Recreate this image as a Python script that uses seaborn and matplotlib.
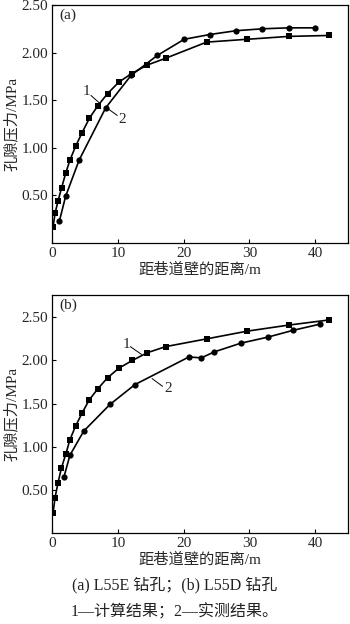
import matplotlib
matplotlib.use("Agg")
import matplotlib.pyplot as plt
import seaborn as sns
import pandas as pd

sns.set_theme(style="ticks")
plt.rcParams['font.family'] = ['Liberation Serif', 'Noto Sans CJK SC']
plt.rcParams['axes.unicode_minus'] = False

# (a) L55E borehole
a_calc_x = [0.14, 0.44, 0.89, 1.44, 2.05, 2.70, 3.6, 4.56, 5.67, 6.93, 8.44, 10.15,
            12.1, 14.5, 17.25, 23.5, 29.7, 36.0, 42.2]
a_calc_y = [0.17, 0.31, 0.44, 0.58, 0.73, 0.87, 1.02, 1.16, 1.31, 1.44, 1.57, 1.69,
            1.78, 1.87, 1.94, 2.11, 2.14, 2.17, 2.18]
a_meas_x = [1.1, 2.05, 4.1, 8.15, 12.0, 16.0, 20.1, 24.0, 28.0, 32.0, 36.0, 40.0]
a_meas_y = [0.23, 0.49, 0.87, 1.42, 1.76, 1.97, 2.14, 2.19, 2.23, 2.25, 2.26, 2.26]

# (b) L55D borehole
b_calc_x = [0.14, 0.44, 0.89, 1.4, 2.1, 2.7, 3.57, 4.56, 5.62, 6.93, 8.44, 10.15,
            12.2, 14.5, 17.25, 23.5, 29.7, 36.0, 42.2]
b_calc_y = [0.23, 0.41, 0.58, 0.75, 0.92, 1.08, 1.24, 1.39, 1.54, 1.67, 1.80, 1.91,
            2.00, 2.09, 2.16, 2.25, 2.34, 2.41, 2.47]
b_meas_x = [1.8, 2.7, 4.8, 8.8, 12.6, 20.8, 22.7, 24.7, 28.7, 32.8, 36.7, 40.7]
b_meas_y = [0.65, 0.90, 1.18, 1.49, 1.72, 2.04, 2.03, 2.10, 2.20, 2.27, 2.35, 2.42]

x_ticks = [0, 10, 20, 30, 40]
y_ticks = [0.5, 1.0, 1.5, 2.0, 2.5]
y_tick_labels = ["0.50", "1.00", "1.50", "2.00", "2.50"]

x_label = "距巷道壁的距离/m"
y_label = "孔隙压力/MPa"
caption1 = "(a) L55E 钻孔；(b) L55D 钻孔"
caption2 = "1—计算结果；2—实测结果。"

fig = plt.figure(figsize=(3.5, 6.24), dpi=100)
ax_a = fig.add_axes([0.149, 0.6106, 0.845, 0.3814])
ax_b = fig.add_axes([0.149, 0.146, 0.845, 0.3814])

FS = 11


def draw_panel(ax, cx, cy, mx, my, ylim, tag, lab1, lab2):
    calc = pd.DataFrame({"x": cx, "y": cy})
    meas = pd.DataFrame({"x": mx, "y": my})
    sns.lineplot(data=calc, x="x", y="y", ax=ax, color="black", lw=1.2,
                 marker="s", markersize=4.3, markeredgewidth=0, sort=False)
    sns.lineplot(data=meas, x="x", y="y", ax=ax, color="black", lw=1.2,
                 marker="o", markersize=4.5, markeredgewidth=0, sort=False)
    ax.set_xlim(0, 45)
    ax.set_ylim(*ylim)
    ax.set_xticks(x_ticks)
    ax.set_xticklabels([str(t) for t in x_ticks], fontsize=FS)
    ax.set_yticks(y_ticks)
    ax.set_yticklabels(y_tick_labels, fontsize=FS)
    ax.tick_params(direction="in", length=3, width=0.8, color="black", pad=3)
    for s in ax.spines.values():
        s.set_color("black")
        s.set_linewidth(0.9)
    ax.set_xlabel(x_label, fontsize=FS, labelpad=2)
    ax.set_ylabel(y_label, fontsize=FS, labelpad=2)
    ax.text(0.025, 0.955, tag, transform=ax.transAxes, fontsize=FS,
            ha="left", va="center")
    for txt, (tx, ty), (x0, y0), (x1, y1) in (lab1, lab2):
        ax.text(tx, ty, txt, fontsize=FS, ha="center", va="center")
        ax.plot([x0, x1], [y0, y1], color="black", lw=0.7)


draw_panel(ax_a, a_calc_x, a_calc_y, a_meas_x, a_meas_y, (0, 2.5), "(a)",
           ("1", (5.2, 1.59), (5.9, 1.55), (7.2, 1.47)),
           ("2", (10.7, 1.30), (8.5, 1.41), (9.9, 1.34)))
draw_panel(ax_b, b_calc_x, b_calc_y, b_meas_x, b_meas_y, (0, 2.76), "(b)",
           ("1", (11.3, 2.19), (11.9, 2.16), (13.6, 2.07)),
           ("2", (17.6, 1.67), (15.2, 1.79), (16.8, 1.70)))

fig.text(0.5, 1 - 585 / 624, caption1, fontsize=11.5, ha="center", va="center",
         color="#222222")
fig.text(0.5, 1 - 612 / 624, caption2, fontsize=11.5, ha="center", va="center",
         color="#222222")

fig.savefig("out.png", dpi=100)
